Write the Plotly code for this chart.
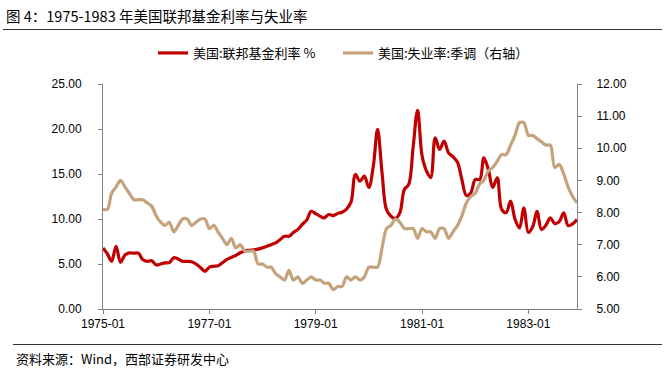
import plotly.graph_objects as go
import pandas as pd

# ---- data (monthly, 1975-01 .. 1983-12) ----
months = pd.date_range("1975-01-01", "1983-12-01", freq="MS").strftime("%Y-%m-%d").tolist()

fed_funds = [
    6.79, 6.1, 5.3, 6.97, 5.19, 6.0, 6.23, 6.2, 6.2, 5.5, 5.3, 5.37,          # 1975
    4.9, 5.0, 5.12, 5.15, 5.7, 5.55, 5.3, 5.3, 5.25, 5.0, 4.6, 4.19,          # 1976
    4.65, 4.75, 4.8, 5.15, 5.5, 5.75, 5.95, 6.25, 6.45, 6.52, 6.58, 6.65,     # 1977
    6.8, 6.97, 7.15, 7.34, 7.7, 8.08, 8.08, 8.5, 8.85, 9.4, 9.9, 10.86,       # 1978
    10.6, 10.3, 10.13, 10.5, 10.38, 10.6, 10.75, 11.1, 11.9, 14.95, 14.2, 14.76,  # 1979
    13.5, 15.9, 19.96, 15.1, 11.05, 10.3, 10.05, 10.68, 13.28, 13.84, 18.1, 22.07,  # 1980
    17.0, 15.3, 14.6, 19.03, 17.73, 18.66, 17.36, 16.92, 16.3, 14.4, 12.6, 12.9,   # 1981
    14.39, 14.39, 16.8, 15.5, 13.5, 14.58, 11.1, 10.7, 12.0, 10.0, 9.0, 11.2,     # 1982
    8.5, 9.2, 10.86, 8.83, 9.3, 10.13, 9.49, 9.7, 10.68, 9.27, 9.45, 9.94,        # 1983
]

unemployment = [
    8.1, 8.1, 8.6, 8.8, 9.0, 8.8, 8.6, 8.4, 8.4, 8.4, 8.3, 8.2,       # 1975
    7.9, 7.7, 7.6, 7.7, 7.4, 7.6, 7.8, 7.8, 7.6, 7.7, 7.8, 7.8,       # 1976
    7.5, 7.6, 7.4, 7.2, 7.0, 7.2, 6.9, 7.0, 6.8, 6.8, 6.8, 6.4,       # 1977
    6.4, 6.3, 6.3, 6.1, 6.0, 5.9, 6.2, 5.9, 6.0, 5.8, 5.9, 6.0,       # 1978
    5.9, 5.9, 5.8, 5.8, 5.6, 5.7, 5.7, 6.0, 5.9, 6.0, 5.9, 6.0,       # 1979
    6.3, 6.3, 6.3, 6.9, 7.5, 7.6, 7.8, 7.7, 7.5, 7.5, 7.5, 7.2,       # 1980
    7.5, 7.4, 7.4, 7.2, 7.5, 7.5, 7.2, 7.4, 7.6, 7.9, 8.3, 8.5,       # 1981
    8.6, 8.9, 9.0, 9.3, 9.4, 9.6, 9.8, 9.8, 10.1, 10.4, 10.8, 10.8,   # 1982
    10.4, 10.4, 10.3, 10.2, 10.1, 10.1, 9.4, 9.5, 9.2, 8.8, 8.5, 8.3, # 1983
]

x_tick_vals = ["1975-01-01", "1977-01-01", "1979-01-01", "1981-01-01", "1983-01-01"]
x_tick_labels = ["1975-01", "1977-01", "1979-01", "1981-01", "1983-01"]

series_names = ["美国:联邦基金利率 %", "美国:失业率:季调（右轴）"]
title_text = "图 4：1975-1983 年美国联邦基金利率与失业率"
source_text = "资料来源：Wind，西部证券研发中心"

RED = "#C00000"
TAN = "#C4A37C"
AXIS = "#808080"
CJK = "Noto Sans CJK SC"
LAT = "Liberation Sans, Arial"

W, H = 667, 372
L, R, T, B = 103, 90, 84, 63

fig = go.Figure()
fig.add_trace(go.Scatter(
    x=months, y=fed_funds, name=series_names[0], mode="lines",
    line=dict(color=RED, width=3.2, shape="spline", smoothing=1.0),
    yaxis="y",
))
fig.add_trace(go.Scatter(
    x=months, y=unemployment, name=series_names[1], mode="lines",
    line=dict(color=TAN, width=3.2, shape="spline", smoothing=0.8),
    yaxis="y2",
))

def px_x(px):
    return (px - L) / (W - L - R)

def px_y(py):
    return (H - B - py) / (H - T - B)

fig.update_layout(
    width=W, height=H,
    margin=dict(l=L, r=R, t=T, b=B, pad=0),
    paper_bgcolor="white", plot_bgcolor="white",
    font=dict(family=LAT, size=12, color="#000000"),
    showlegend=True,
    legend=dict(
        orientation="h", x=px_x(153), y=px_y(53), xanchor="left", yanchor="middle",
        font=dict(family=CJK, size=13, color="#000000"),
        bgcolor="rgba(0,0,0,0)", entrywidth=140, entrywidthmode="pixels",
        itemwidth=30,
    ),
    xaxis=dict(
        type="date", range=["1975-01-01", "1983-12-01"],
        tickvals=x_tick_vals, ticktext=x_tick_labels,
        showgrid=False, zeroline=False,
        showline=True, linecolor=AXIS, linewidth=1,
        ticks="outside", ticklen=4, tickcolor=AXIS,
        tickfont=dict(family=LAT, size=12, color="#000000"),
    ),
    yaxis=dict(
        range=[0, 25], dtick=5, tick0=0, tickformat=".2f",
        showgrid=False, zeroline=False,
        showline=True, linecolor=AXIS, linewidth=1,
        ticks="outside", ticklen=4, tickcolor=AXIS,
        ticklabelstandoff=14,
        tickfont=dict(family=LAT, size=12, color="#000000"),
    ),
    yaxis2=dict(
        range=[5, 12], dtick=1, tick0=5, tickformat=".2f",
        overlaying="y", side="right",
        showgrid=False, zeroline=False,
        showline=True, linecolor=AXIS, linewidth=1,
        ticks="outside", ticklen=4, tickcolor=AXIS,
        ticklabelstandoff=12,
        tickfont=dict(family=LAT, size=12, color="#000000"),
    ),
    annotations=[
        dict(text=title_text, xref="paper", yref="paper",
             x=px_x(4), y=px_y(15), xanchor="left", yanchor="middle",
             showarrow=False, font=dict(family=CJK, size=14.5, color="#000000")),
        dict(text=source_text, xref="paper", yref="paper",
             x=px_x(14), y=px_y(358), xanchor="left", yanchor="middle",
             showarrow=False, font=dict(family=CJK, size=13, color="#000000")),
    ],
    shapes=[
        dict(type="line", xref="paper", yref="paper",
             x0=px_x(3), x1=px_x(662), y0=px_y(29.5), y1=px_y(29.5),
             line=dict(color="#333333", width=1)),
        dict(type="line", xref="paper", yref="paper",
             x0=px_x(13), x1=px_x(662), y0=px_y(344.5), y1=px_y(344.5),
             line=dict(color="#333333", width=1)),
    ],
)

fig.write_html("out.html", config={"displayModeBar": False},
               post_script="document.body.style.margin='0';")
